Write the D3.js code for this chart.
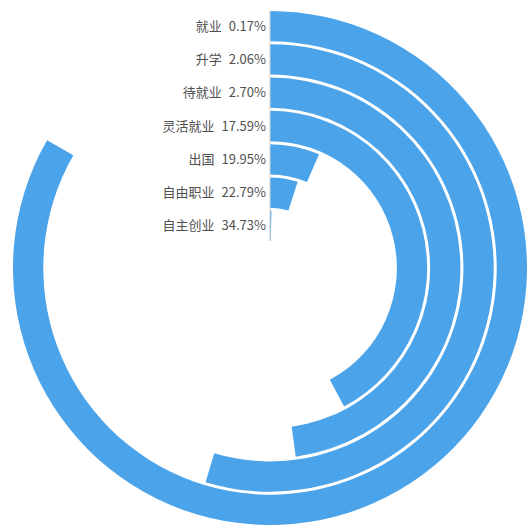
<!DOCTYPE html>
<html>
<head>
<meta charset="utf-8">
<script src="https://cdn.jsdelivr.net/npm/d3@7"></script>
<style>
  body { margin: 0; background: #fff; }
  svg { display: block; }
</style>
</head>
<body>
<svg id="chart" width="529" height="530"></svg>
<script>
// labels as printed, outer ring -> inner ring
var categories = ['就业', '升学', '待就业', '灵活就业', '出国', '自由职业', '自主创业'];
var labelPercents = [0.17, 2.06, 2.70, 17.59, 19.95, 22.79, 34.73];
// bar lengths as drawn (outer -> inner)
var barValues = [34.73, 22.79, 19.95, 17.59, 2.70, 2.06, 0.17];
var angleMax = 41.7;

var width = 529;
var height = 530;
var cx = 270;
var cy = 268;
var outerR = 257;
var innerR = 27;

var svg = d3.select('#chart');
var g = svg.append('g')
    .attr('transform', 'translate(' + cx + ',' + cy + ')');

var data = categories.map(function(c, i){
    return { name: c, pct: labelPercents[i], value: barValues[i] };
});

var rScale = d3.scaleBand()
    .domain(categories.slice().reverse())
    .range([innerR, outerR])
    .paddingInner(0.09)
    .paddingOuter(0);

var aScale = d3.scaleLinear()
    .domain([0, angleMax])
    .range([0, 2 * Math.PI]);

var arcGen = d3.arc()
    .innerRadius(function(d){ return rScale(d.name); })
    .outerRadius(function(d){ return rScale(d.name) + rScale.bandwidth(); })
    .startAngle(0)
    .endAngle(function(d){ return aScale(d.value); });

g.selectAll('.bar')
    .data(data)
    .enter()
    .append('path')
    .attr('class', 'bar')
    .attr('d', arcGen)
    .attr('fill', '#4ba3ea');

// radius axis line
g.append('line')
    .attr('x1', 0).attr('x2', 0)
    .attr('y1', -innerR)
    .attr('y2', -outerR)
    .attr('stroke', '#d0d0d0')
    .attr('stroke-width', 1);

var labels = g.selectAll('.lbl')
    .data(data)
    .enter()
    .append('text')
    .attr('class', 'lbl')
    .attr('x', -4)
    .attr('y', function(d){ return -(rScale(d.name) + rScale.bandwidth() / 2); })
    .attr('dy', '0.35em')
    .style('text-anchor', 'end')
    .style('font-family', '"Noto Sans CJK SC", "Noto Sans", sans-serif')
    .style('font-size', '13px')
    .style('fill', '#505050');

labels.append('tspan')
    .text(function(d){ return d.name; });
labels.append('tspan')
    .attr('dx', 7)
    .text(function(d){ return d.pct.toFixed(2) + '%'; });
</script>
</body>
</html>
